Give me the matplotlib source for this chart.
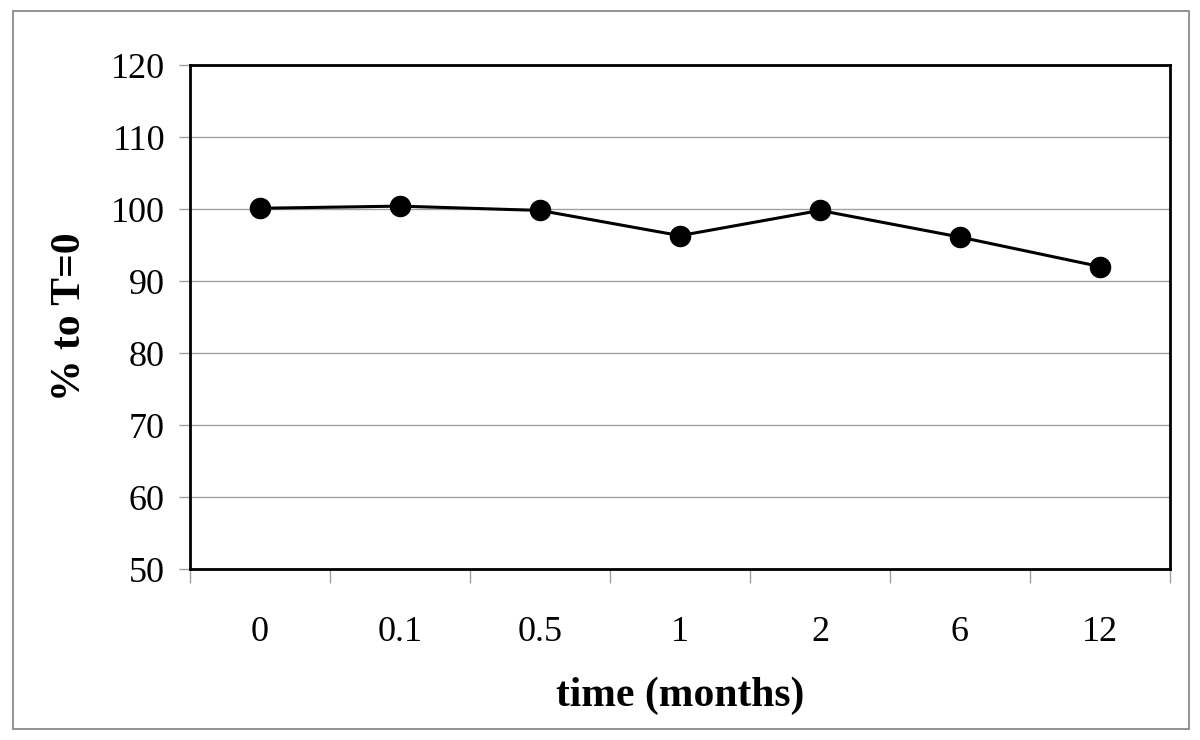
import matplotlib
matplotlib.use("Agg")
import matplotlib.pyplot as plt
from matplotlib.patches import Rectangle
import numpy as np

categories = ["0", "0.1", "0.5", "1", "2", "6", "12"]
values = [100.1, 100.4, 99.8, 96.3, 99.8, 96.1, 92.0]
y_ticks = [50, 60, 70, 80, 90, 100, 110, 120]

plt.rcParams['font.family'] = ['Liberation Serif', 'DejaVu Serif']

fig = plt.figure(figsize=(12, 7.4), dpi=100)
ax = fig.add_axes([190/1200, 1 - 569/740, 980/1200, (569-65)/740])

x = np.arange(len(categories))
ax.plot(x, values, color='black', lw=2.2, marker='o', markersize=14.5, zorder=3)

ax.set_xlim(-0.5, len(categories) - 0.5)
ax.set_ylim(50, 120)
ax.set_yticks(y_ticks)
ax.set_yticklabels([str(v) for v in y_ticks], fontsize=26)
ax.yaxis.grid(True, color='#a0a0a0', lw=1)
ax.set_axisbelow(True)

# category boundaries as major ticks, labels at centers as minor ticks
ax.set_xticks(np.arange(-0.5, len(categories), 1.0))
ax.set_xticklabels([])
ax.set_xticks(x, minor=True)
ax.set_xticklabels(categories, minor=True, fontsize=26)
ax.tick_params(axis='x', which='major', length=10, width=1, color='#a0a0a0', direction='out')
ax.tick_params(axis='x', which='minor', length=0, pad=34)
ax.tick_params(axis='y', length=8, width=1, color='#a0a0a0', direction='out', pad=10)

for s in ax.spines.values():
    s.set_linewidth(2)
    s.set_color('black')

ax.set_xlabel('time (months)', fontsize=30, fontweight='bold', labelpad=20)
ax.set_ylabel('% to T=0', fontsize=30, fontweight='bold', labelpad=16)

fig.patches.append(Rectangle((13/1200, 1 - 729/740), (1189-13)/1200, (729-11)/740,
                             transform=fig.transFigure, fill=False, edgecolor='#808080', lw=1.2))

fig.savefig('out.png', dpi=100, facecolor='white')
